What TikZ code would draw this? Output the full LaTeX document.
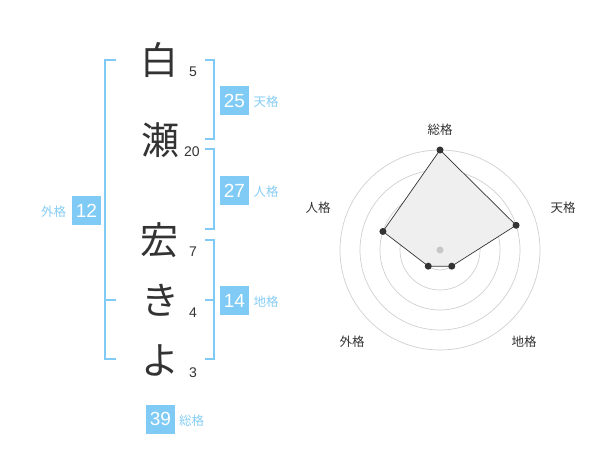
\documentclass[tikz,border=0pt]{standalone}
\usepackage{fontspec}
\setmainfont{Liberation Sans}
\newfontfamily\jp{Noto Sans CJK JP}
\definecolor{blu}{HTML}{80CBF6}
\definecolor{blutxt}{HTML}{86CDF5}
\definecolor{ink}{HTML}{333333}
\definecolor{ringc}{HTML}{D0D0D0}
\definecolor{areac}{HTML}{EFEFEF}
\begin{document}
\begin{tikzpicture}[x=1pt,y=-1pt,
  kanji/.style={font=\jp\fontsize{38}{38}\selectfont, text=ink, inner sep=0pt},
  strokes/.style={font=\fontsize{14}{14}\selectfont, text=ink, inner sep=0pt},
  numbox/.style={fill=blu, text=white, minimum width=29pt, minimum height=29pt, inner sep=0pt, font=\fontsize{19}{19}\selectfont},
  kaku/.style={text=blutxt, font=\jp\fontsize{12.5}{12.5}\selectfont, inner sep=0pt},
  brk/.style={draw=blu, line width=2pt},
  ring/.style={draw=ringc, line width=0.7pt},
  axlabel/.style={text=ink, font=\jp\fontsize{12.5}{12.5}\selectfont, inner sep=0pt},
  dot/.style={circle, fill=ink, inner sep=0pt, minimum size=7pt},
]
\useasboundingbox (0,0) rectangle (600,470);
% characters
\node[kanji] (c1) at (159,60) {白};
\node[kanji] (c2) at (160,140) {瀬};
\node[kanji] (c3) at (159,240) {宏};
\node[kanji] (c4) at (160,300) {き};
\node[kanji] (c5) at (160,360) {よ};
% stroke counts
\node[strokes] (s1) at (193,72) {5};
\node[strokes] (s2) at (192,152) {20};
\node[strokes] (s3) at (193,252) {7};
\node[strokes] (s4) at (193,313) {4};
\node[strokes] (s5) at (193,373) {3};
% brackets
\draw[brk] (205,60) -- (214,60) -- (214,139) -- (205,139);
\draw[brk] (205,149) -- (214,149) -- (214,229) -- (205,229);
\draw[brk] (205,240) -- (214,240) -- (214,359) -- (205,359);
\draw[brk] (205,300) -- (214,300);
\draw[brk] (116,60) -- (105,60) -- (105,359) -- (116,359);
\draw[brk] (105,300) -- (116,300);
% boxes
\node[numbox] (ten) at (234.5,100.5) {25};
\node[kaku] (tenl) at (266,101.5) {天格};
\node[numbox] (jin) at (234.5,190.5) {27};
\node[kaku] (jinl) at (266,191.5) {人格};
\node[numbox] (chi) at (234.5,300.5) {14};
\node[kaku] (chil) at (266,301.5) {地格};
\node[numbox] (gai) at (86.5,210.5) {12};
\node[kaku] (gail) at (53.5,212) {外格};
\node[numbox] (sou) at (160.5,419) {39};
\node[kaku] (soul) at (191.5,421) {総格};
% radar
\coordinate (o) at (440,250);
\foreach \r in {20,40,60,80,100} \draw[ring] (o) circle[radius=\r];
\coordinate (p1) at (440,150);
\coordinate (p2) at ({440+80*cos(18)},{250-80*sin(18)});
\coordinate (p3) at ({440+20*cos(54)},{250+20*sin(54)});
\coordinate (p4) at ({440-20*cos(54)},{250+20*sin(54)});
\coordinate (p5) at ({440-60*cos(18)},{250-60*sin(18)});
\draw[fill=areac, draw=ink, line width=0.7pt] (p1) -- (p2) -- (p3) -- (p4) -- (p5) -- cycle;
\node[circle, fill=black!22, inner sep=0pt, minimum size=7pt] (ctr) at (o) {};
\foreach \p in {p1,p2,p3,p4,p5} \node[dot] at (\p) {};
\node[axlabel] (la) at (440,130) {総格};
\node[axlabel] (lb) at (563,208) {天格};
\node[axlabel] (lc) at (524,342) {地格};
\node[axlabel] (ld) at (352,342) {外格};
\node[axlabel] (le) at (318,208) {人格};
\end{tikzpicture}
\end{document}
